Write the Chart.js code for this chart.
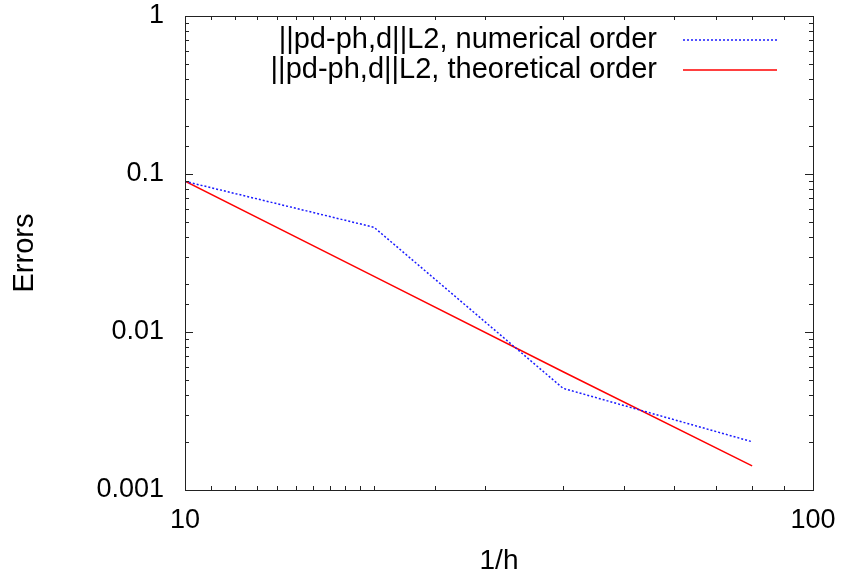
<!DOCTYPE html>
<html>
<head>
<meta charset="utf-8">
<script src="https://cdn.jsdelivr.net/npm/chart.js@4/dist/chart.umd.min.js"></script>
<style>
  html, body { margin: 0; padding: 0; background: #fff; }
  #wrap { width: 847px; height: 582px; }
</style>
</head>
<body>
<div id="wrap"><canvas id="errChart" width="847" height="582"></canvas></div>
<script>
// data
const hInv = [10, 20, 40, 80];
const numericalErr = [0.0898, 0.046, 0.0044, 0.00202];
const theoreticalErr = [0.09, 0.0225, 0.0056, 0.00142];
const seriesLabels = ['||pd-ph,d||L2, numerical order', '||pd-ph,d||L2, theoretical order'];
const xTickLabels = [10, 100];
const yTickLabels = [0.001, 0.01, 0.1, 1];

const FONT = 'Liberation Sans, Arial, sans-serif';

// gnuplot-style inward ticks on all four sides + legend with sample on the right
const frameTicks = {
  id: 'frameTicks',
  afterDraw(chart) {
    const { ctx, chartArea: a, scales } = chart;
    ctx.save();
    ctx.strokeStyle = '#222';
    ctx.lineWidth = 1;
    ctx.strokeRect(Math.round(a.left) + 0.5, Math.round(a.top) + 0.5, Math.round(a.right - a.left), Math.round(a.bottom - a.top));
    ctx.beginPath();
    scales.x.ticks.forEach(t => {
      const px = Math.round(scales.x.getPixelForValue(t.value)) + 0.5;
      const len = xTickLabels.includes(t.value) ? 8 : 4;
      ctx.moveTo(px, a.bottom); ctx.lineTo(px, a.bottom - len);
      ctx.moveTo(px, a.top); ctx.lineTo(px, a.top + len);
    });
    scales.y.ticks.forEach(t => {
      const py = Math.round(scales.y.getPixelForValue(t.value)) + 0.5;
      const len = yTickLabels.includes(t.value) ? 8 : 4;
      ctx.moveTo(a.left, py); ctx.lineTo(a.left + len, py);
      ctx.moveTo(a.right, py); ctx.lineTo(a.right - len, py);
    });
    ctx.stroke();

    // legend
    ctx.font = '29px ' + FONT;
    ctx.textAlign = 'right';
    ctx.textBaseline = 'middle';
    chart.data.datasets.forEach((ds, i) => {
      const y = 40 + i * 30;
      ctx.fillStyle = '#000';
      ctx.fillText(ds.label, 657, y);
      ctx.beginPath();
      ctx.strokeStyle = ds.borderColor;
      ctx.lineWidth = ds.borderWidth;
      ctx.setLineDash(ds.borderDash || []);
      ctx.moveTo(683, y); ctx.lineTo(777, y);
      ctx.stroke();
    });
    ctx.restore();
  }
};

const ctx = document.getElementById('errChart').getContext('2d');
new Chart(ctx, {
  type: 'line',
  data: {
    datasets: [{
      label: seriesLabels[0],
      data: hInv.map((x, i) => ({ x: x, y: numericalErr[i] })),
      borderColor: '#1a1aff',
      borderWidth: 1.5,
      borderDash: [2, 2],
      pointRadius: 0,
      fill: false,
      tension: 0
    }, {
      label: seriesLabels[1],
      data: hInv.map((x, i) => ({ x: x, y: theoreticalErr[i] })),
      borderColor: '#ff0000',
      borderWidth: 1.5,
      pointRadius: 0,
      fill: false,
      tension: 0
    }]
  },
  options: {
    responsive: false,
    animation: false,
    layout: { padding: { top: 16, right: 34, left: 0, bottom: 0 } },
    plugins: { legend: { display: false }, tooltip: { enabled: false } },
    scales: {
      x: {
        type: 'logarithmic',
        min: 10,
        max: 100,
        grid: { display: false, drawTicks: false },
        border: { display: false },
        ticks: {
          autoSkip: false,
          maxRotation: 0,
          padding: 14,
          color: '#000',
          font: { family: FONT, size: 27 },
          callback: v => xTickLabels.includes(v) ? String(v) : ''
        },
        title: { display: true, text: '1/h', color: '#000', font: { family: FONT, size: 28 }, padding: { top: 20 } },
        afterFit: s => { s.height = 92; s.paddingLeft = 0; s.paddingRight = 0; }
      },
      y: {
        type: 'logarithmic',
        min: 0.001,
        max: 1,
        grid: { display: false, drawTicks: false },
        border: { display: false },
        ticks: {
          autoSkip: false,
          padding: 21,
          color: '#000',
          font: { family: FONT, size: 27 },
          callback: v => yTickLabels.includes(v) ? String(v) : ''
        },
        title: { display: true, text: 'Errors', color: '#000', font: { family: FONT, size: 29 }, padding: { top: 8, bottom: 0 } },
        afterFit: s => { s.width = 185; s.paddingTop = 0; s.paddingBottom = 0; }
      }
    }
  },
  plugins: [frameTicks]
});
</script>
</body>
</html>
